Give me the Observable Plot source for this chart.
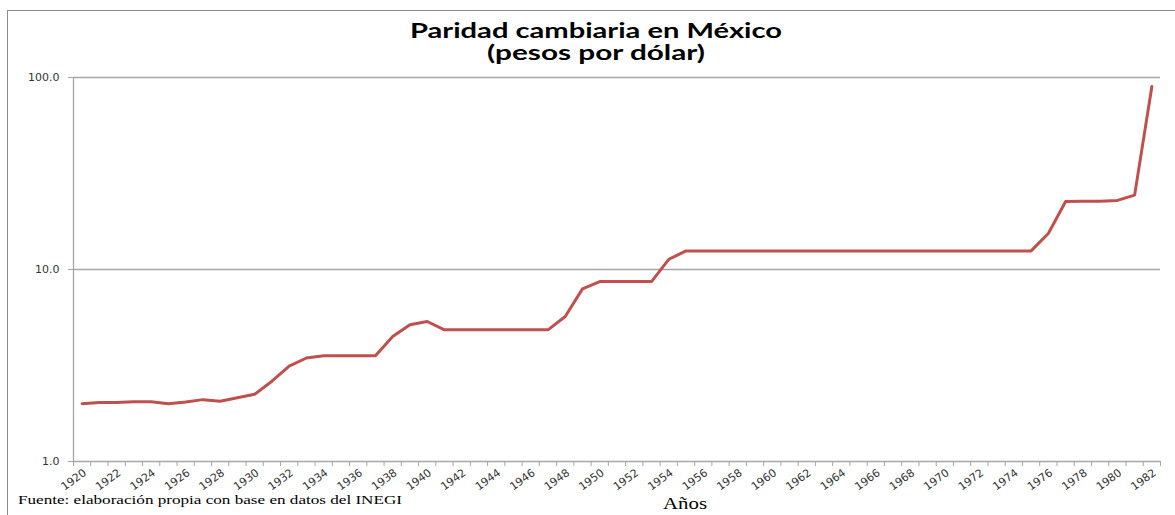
<!DOCTYPE html>
<html>
<head>
<meta charset="utf-8">
<script src="https://cdn.jsdelivr.net/npm/d3@7"></script>
<script src="https://cdn.jsdelivr.net/npm/@observablehq/plot@0.6"></script>
<style>
  html, body { margin: 0; padding: 0; background: #fff; }
  #wrap { position: relative; width: 1175px; height: 515px; overflow: hidden; background: #fff; }
  #frame { position: absolute; left: 7px; top: 10px; right: -5px; bottom: -5px; border-top: 1.5px solid #8c8c8c; border-left: 1.5px solid #8c8c8c; }
  .t { position: absolute; white-space: nowrap; display: inline-block; line-height: 1; }
  .title { font-family: Lato, "Open Sans", sans-serif; font-weight: bold; font-size: 20px; color: #000; }
  .serif { font-family: "Liberation Serif", "DejaVu Serif", serif; color: #000; }
  #chart { position: absolute; left: 0; top: 0; }
</style>
</head>
<body>
<div id="wrap">
  <div id="frame"></div>
  <div id="chart"></div>
  <span class="t title" id="t1">Paridad cambiaria en México</span>
  <span class="t title" id="t2">(pesos por dólar)</span>
  <span class="t serif" id="src" style="font-size:12px;">Fuente: elaboración propia con base en datos del INEGI</span>
  <span class="t serif" id="xl" style="font-size:16px;">Años</span>
</div>
<script>
// ---- data ----
const years = [1920,1921,1922,1923,1924,1925,1926,1927,1928,1929,
  1930,1931,1932,1933,1934,1935,1936,1937,1938,1939,
  1940,1941,1942,1943,1944,1945,1946,1947,1948,1949,
  1950,1951,1952,1953,1954,1955,1956,1957,1958,1959,
  1960,1961,1962,1963,1964,1965,1966,1967,1968,1969,
  1970,1971,1972,1973,1974,1975,1976,1977,1978,1979,
  1980,1981,1982];
const pesosPorDolar = [2.00,2.03,2.03,2.05,2.05,2.00,2.04,2.10,2.06,2.15,
  2.24,2.62,3.14,3.46,3.55,3.55,3.55,3.55,4.48,5.16,
  5.36,4.85,4.85,4.85,4.85,4.85,4.85,4.85,5.69,7.93,
  8.65,8.65,8.65,8.65,11.3,12.5,12.5,12.5,12.5,12.5,
  12.5,12.5,12.5,12.5,12.5,12.5,12.5,12.5,12.5,12.5,
  12.5,12.5,12.5,12.5,12.5,12.5,15.4,22.6,22.7,22.7,
  22.9,24.4,89.8];
const yTicks = [1, 10, 100];
const xLabelYears = [1920,1922,1924,1926,1928,1930,1932,1934,1936,1938,1940,1942,1944,1946,1948,1950,
  1952,1954,1956,1958,1960,1962,1964,1966,1968,1970,1972,1974,1976,1978,1980,1982];

const data = years.map((yr, i) => ({year: yr, value: pesosPorDolar[i]}));
const xDomain = [years[0] - 0.5, years[years.length - 1] + 0.5];
const boundaries = years.map(y => y - 0.5).concat([years[years.length - 1] + 0.5]);

const chart = Plot.plot({
  width: 1175,
  height: 515,
  marginLeft: 73,
  marginRight: 15,
  marginTop: 77,
  marginBottom: 54,
  style: { fontFamily: "DejaVu Sans, sans-serif", background: "transparent" },
  x: { type: "linear", domain: xDomain },
  y: { type: "log", domain: [1, 100] },
  marks: [
    Plot.ruleY(yTicks, { stroke: "#a6a6a6", strokeWidth: 1.3 }),
    Plot.ruleX([xDomain[0]], { stroke: "#a6a6a6", strokeWidth: 1.3 }),
    Plot.axisY(yTicks, {
      tickSize: 5, tickPadding: 9, stroke: "#a6a6a6",
      tickFormat: d => d.toFixed(1), fontSize: 11, fill: "#333",
      label: null, letterSpacing: 1
    }),
    Plot.axisX(boundaries, { tickSize: 5, stroke: "#a6a6a6", tickFormat: () => "", label: null }),
    Plot.axisX(xLabelYears, {
      tickSize: 0, tickPadding: 10, tickRotate: -36, fontSize: 11,
      fill: "#333", tickFormat: d => String(d), label: null, dx: 3
    }),
    Plot.line(data, { x: "year", y: "value", stroke: "#c0504d", strokeWidth: 3, strokeLinejoin: "round" })
  ]
});
document.getElementById("chart").appendChild(chart);

// fit overlay texts horizontally to the reference's widths
function place(id, left, top, targetW, center) {
  const el = document.getElementById(id);
  const w = el.getBoundingClientRect().width;
  const s = targetW / w;
  el.style.transformOrigin = "0 0";
  el.style.transform = `scaleX(${s})`;
  el.style.left = (center ? left - targetW / 2 : left) + "px";
  el.style.top = top + "px";
}
place("t1", 596, 20, 372, true);
place("t2", 596, 42, 218, true);
place("src", 18, 494, 384, false);
place("xl", 685, 496, 44, true);
</script>
</body>
</html>
